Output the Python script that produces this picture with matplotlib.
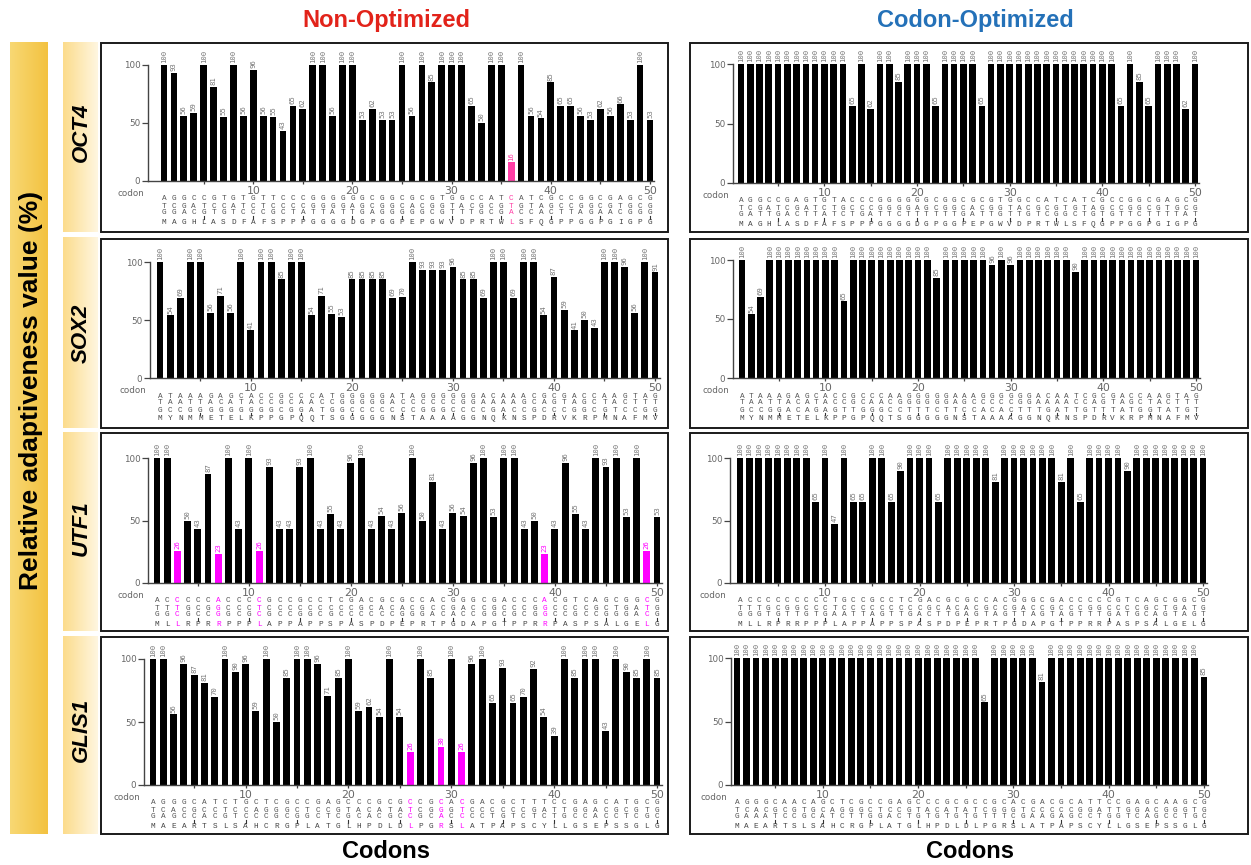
import numpy as np
import matplotlib
matplotlib.use('Agg')
import matplotlib.pyplot as plt
from matplotlib.patches import Rectangle
from matplotlib.transforms import blended_transform_factory

W, H = 1251, 865

# ---- data -------------------------------------------------------------
genes = ['OCT4', 'SOX2', 'UTF1', 'GLIS1']

oct4_aa = 'MAGHLASDFAFSPPPGGGGDGPGGPEPGWVDPRTWLSFQGPPGGPGIGPG'
sox2_aa = 'MYNMMETELKPPGPQQTSGGGGGNSTAAAAGGNQKNSPDRVKRPMNAFMV'
utf1_aa = 'MLLRPRRPPPLAPPAPPSPASPDPEPRTPGDAPGTPPRRPASPSALGELG'
glis1_aa = 'MAEARTSLSAHCRGPLATGLHPDLDLPGRSLATPAPSCYLLGSEPSSGLG'

oct4_native_codons = ('ATG GCG GGA CAC CTG GCT TCG GAT TTC GCC TTC TCG CCC CCT CCA GGT GGT GGA GGT GAT '
                      'GGG CCA GGG GGG CCG GAG CCG GGC TGG GTT GAT CCT CGG ACC TGG CTA AGC TTC CAA GGC '
                      'CCT CCT GGA GGG CCA GGA ATC GGG CCG GGG').split()
oct4_opt_codons = ('ATG GCA GGT CAT CTG GCA AGC GAT TTT GCA TTT AGC CCT CCG CCA GGT GGT GGC GGT GAT '
                   'GGT CCT GGT GGT CCG GAA CCT GGT TGG GTT GAT CCG CGT ACC TGG CTG AGC TTT CAG GGT '
                   'CCG CCT GGT GGC CCT GGT ATT GGT CCA GGT').split()
sox2_native_codons = ('ATG TAC AAC ATG ATG GAG ACG GAG CTG AAG CCG CCG GGC CCG CAG CAA ACT TCG GGG GGC '
                      'GGC GGC GGC AAC TCC ACC GCG GCG GCG GCC GGC GGC AAC CAG AAA AAC AGC CCG GAC CGC '
                      'GTC AAG CGG CCC ATG AAT GCC TTC ATG GTG').split()
sox2_opt_codons = ('ATG TAC AAC ATG ATG GAA ACC GAA CTG AAA CCG CCT GGT CCG CAG CAG ACC AGC GGT GGT '
                   'GGT GGC GGT AAT AGC ACC GCA GCC GCA GCC GGT GGT AAT CAG AAA AAT TCT CCG GAT CGT '
                   'GTT AAA CGT CCG ATG AAT GCA TTT ATG GTT').split()
utf1_native_codons = ('ATG CTG CTC CGG CCC CGC AGG CCG CCC CCG CTC GCG CCC CCC GCG CCG CCC TCG CCC GCC '
                      'AGC CCC GAC CCC GAG CCG CGG ACA CCC GGA GAC GCC CCG GGG ACC CCG CCC CGG AGG CCC '
                      'GCC TCG CCC AGC GCG CTG GGG GAA CTC GGG').split()
utf1_opt_codons = ('ATG CTG CTG CGT CCG CGT CGT CCG CCT CCG TTA GCA CCT CCT GCA CCG CCT TCT CCG GCA '
                   'AGC CCT GAT CCG GAA CCG CGT ACA CCG GGT GAT GCA CCG GGT ACA CCG CCT CGT CGT CCG '
                   'GCA TCT CCG AGC GCA CTG GGT GAA CTG GGT').split()
glis1_native_codons = ('ATG GCA GAG GCC CGC ACA TCC CTG TCT GCC CAC TGC CGG GGC CCG CTG GCC ACT GGC CTG '
                       'CAC CCA GAC CTG GAC CTC CCG GGC CGA AGC CTC GCC ACC CCT GCG CCT TCC TGT TAC CTT '
                       'CTG GGC AGC GAA CCC AGC TCT GGC CTG GGC').split()
glis1_opt_codons = ('ATG GCA GAA GCA CGT ACC AGC CTG AGC GCA CAT TGC CGT GGT CCG CTG GCA ACC GGT CTG '
                    'CAT CCG GAT CTG GAT CTG CCT GGT CGT AGC CTG GCA ACA CCG GCA CCG AGC TGC TAT CTG '
                    'CTG GGT AGC GAA CCG AGC AGC GGT CTG GGC').split()

oct4_native = [100, 93, 56, 59, 100, 81, 55, 100, 56, 96,
               56, 55, 43, 65, 62, 100, 100, 56, 100, 100,
               53, 62, 53, 53, 100, 56, 100, 85, 100, 100,
               100, 65, 50, 100, 100, 16, 100, 56, 54, 85,
               65, 65, 56, 53, 62, 56, 66, 53, 100, 53]
oct4_opt = [100, 100, 100, 100, 100, 100, 100, 100, 100, 100,
            100, 100, 65, 100, 62, 100, 100, 85, 100, 100,
            100, 65, 100, 100, 100, 100, 65, 100, 100, 100,
            100, 100, 100, 100, 100, 100, 100, 100, 100, 100,
            100, 65, 100, 85, 65, 100, 100, 100, 62, 100]
sox2_native = [100, 54, 69, 100, 100, 56, 71, 56, 100, 41,
               100, 100, 85, 100, 100, 54, 71, 55, 53, 85,
               85, 85, 85, 69, 70, 100, 93, 93, 93, 96,
               85, 85, 69, 100, 100, 69, 100, 100, 54, 87,
               59, 41, 50, 43, 100, 100, 96, 56, 100, 91]
sox2_opt = [100, 54, 69, 100, 100, 100, 100, 100, 100, 100,
            100, 65, 100, 100, 100, 100, 100, 100, 100, 100,
            100, 85, 100, 100, 100, 100, 100, 96, 100, 96,
            100, 100, 100, 100, 100, 100, 90, 100, 100, 100,
            100, 100, 100, 100, 100, 100, 100, 100, 100, 100]
utf1_native = [100, 100, 26, 50, 43, 87, 23, 100, 43, 100,
               26, 93, 43, 43, 93, 100, 43, 55, 43, 96,
               100, 43, 54, 43, 56, 100, 50, 81, 43, 56,
               54, 96, 100, 53, 100, 100, 43, 50, 23, 43,
               96, 55, 43, 100, 93, 100, 53, 100, 26, 53]
utf1_opt = [100, 100, 100, 100, 100, 100, 100, 100, 65, 100,
            47, 100, 65, 65, 100, 100, 65, 90, 100, 100,
            100, 65, 100, 100, 100, 100, 100, 81, 100, 100,
            100, 100, 100, 100, 81, 100, 65, 100, 100, 100,
            100, 90, 100, 100, 100, 100, 100, 100, 100, 100]
glis1_native = [100, 100, 56, 96, 87, 81, 70, 100, 90, 96,
                59, 100, 50, 85, 100, 100, 96, 71, 85, 100,
                59, 62, 54, 100, 54, 26, 100, 85, 30, 100,
                26, 96, 100, 65, 93, 65, 70, 92, 54, 39,
                100, 85, 100, 100, 43, 100, 90, 85, 100, 85]
glis1_opt = [100, 100, 100, 100, 100, 100, 100, 100, 100, 100,
             100, 100, 100, 100, 100, 100, 100, 100, 100, 100,
             100, 100, 100, 100, 100, 100, 65, 100, 100, 100,
             100, 100, 81, 100, 100, 100, 100, 100, 100, 100,
             100, 100, 100, 100, 100, 100, 100, 100, 100, 85]

# ---- layout (pixel positions in the 1251x865 canvas) ------------------
# box, spine x, centre of bar 1, centre of bar 50, y of 100, y of 0
layout = {
    ('OCT4', 0): ((101, 43, 668, 232), 148, 164, 650, 65, 181),
    ('SOX2', 0): ((101, 239, 668, 428), 150, 160, 655, 262, 378),
    ('UTF1', 0): ((101, 433, 668, 631), 148, 157, 657, 458, 583),
    ('GLIS1', 0): ((101, 637, 668, 834), 144, 153, 657, 659, 785),
    ('OCT4', 1): ((690, 43, 1248, 232), 733, 741, 1195, 64, 183),
    ('SOX2', 1): ((690, 239, 1248, 428), 733, 742, 1196, 260, 378),
    ('UTF1', 1): ((690, 433, 1248, 631), 730, 740, 1203, 458, 583),
    ('GLIS1', 1): ((690, 637, 1248, 834), 731, 737, 1204, 658, 785),
}
gene_label_y = {'OCT4': 132, 'SOX2': 333, 'UTF1': 528, 'GLIS1': 730}
gene_box_y = {'OCT4': (42, 232), 'SOX2': (237, 428), 'UTF1': (432, 631), 'GLIS1': (636, 834)}
rare_color = {'OCT4': '#ff3fa6', 'SOX2': '#ff00ff', 'UTF1': '#ff00ff', 'GLIS1': '#ff00ff'}

panels = {
    ('OCT4', 0): (oct4_native, oct4_native_codons, oct4_aa),
    ('OCT4', 1): (oct4_opt, oct4_opt_codons, oct4_aa),
    ('SOX2', 0): (sox2_native, sox2_native_codons, sox2_aa),
    ('SOX2', 1): (sox2_opt, sox2_opt_codons, sox2_aa),
    ('UTF1', 0): (utf1_native, utf1_native_codons, utf1_aa),
    ('UTF1', 1): (utf1_opt, utf1_opt_codons, utf1_aa),
    ('GLIS1', 0): (glis1_native, glis1_native_codons, glis1_aa),
    ('GLIS1', 1): (glis1_opt, glis1_opt_codons, glis1_aa),
}

MONO = 'Liberation Mono'


def fx(px):
    return px / W


def fy(py):
    return 1 - py / H


def gradient_box(fig, x0, y0, x1, y1, c_left, c_right):
    ax = fig.add_axes([fx(x0), fy(y1), (x1 - x0) / W, (y1 - y0) / H], zorder=0)
    a = np.array(matplotlib.colors.to_rgb(c_left))
    b = np.array(matplotlib.colors.to_rgb(c_right))
    t = np.linspace(0, 1, 64)
    img = (a[None, :] * (1 - t[:, None]) + b[None, :] * t[:, None])[None, :, :]
    ax.imshow(img, aspect='auto', extent=(0, 1, 0, 1))
    ax.set_xlim(0, 1)
    ax.set_ylim(0, 1)
    ax.axis('off')
    return ax


def draw_panel(fig, gene, side):
    box, spine, bar1, bar50, y100, y0 = layout[(gene, side)]
    vals, codons, aa = panels[(gene, side)]

    fig.add_artist(Rectangle((fx(box[0]), fy(box[3])), (box[2] - box[0]) / W, (box[3] - box[1]) / H,
                             transform=fig.transFigure, fill=False, ec='#1a1a1a', lw=1.4, zorder=5))

    step = (bar50 - bar1) / 49
    xmin = 1 - (bar1 - spine) / step
    xmax = 50.45
    right_px = bar1 + (xmax - 1) * step
    ax = fig.add_axes([fx(spine), fy(y0), (right_px - spine) / W, (y0 - y100) / H], zorder=3)
    ax.patch.set_alpha(0)
    ax.set_xlim(xmin, xmax)
    ax.set_ylim(0, 100)

    x = np.arange(1, 51)
    cols = [rare_color[gene] if v <= 30 else 'black' for v in vals]
    ax.bar(x, vals, width=0.68 if side == 0 else 0.72, color=cols, zorder=2)
    for xi, v, c in zip(x, vals, cols):
        ax.text(xi, v + 1.5, str(v), rotation=90, ha='center', va='bottom', fontsize=5.2,
                family='DejaVu Sans Mono', color=(c if c != 'black' else '#777777'), clip_on=False)

    for s in ('top', 'right'):
        ax.spines[s].set_visible(False)
    for s in ('left', 'bottom'):
        ax.spines[s].set_color('#444444')
        ax.spines[s].set_linewidth(1.0)
    ax.set_yticks([0, 50, 100])
    ax.tick_params(axis='y', length=4, width=0.9, color='#444444', labelcolor='#666666',
                   labelsize=6.3, pad=1.5)
    ax.set_xticks(range(5, 51, 5))
    ax.set_xticklabels([str(i) if i % 10 == 0 else '' for i in range(5, 51, 5)])
    ax.tick_params(axis='x', length=2.5, width=0.9, color='#444444', labelcolor='#666666',
                   labelsize=7.8, pad=1.0)

    trans = blended_transform_factory(ax.transData, fig.transFigure)
    fig.text(fx(spine - 4), fy(y0 + 12.5), 'codon', ha='right', va='center', fontsize=6.3,
             color='#666666')
    row_off = [18, 25, 32]
    for i, (cod, a) in enumerate(zip(codons, aa), start=1):
        c = rare_color[gene] if vals[i - 1] <= 30 else '#555555'
        for k in range(3):
            ax.text(i, fy(y0 + row_off[k]), cod[k], transform=trans, ha='center', va='center',
                    fontsize=5.6, family=MONO, color=c)
        ax.text(i, fy(y0 + 41), a, transform=trans, ha='center', va='center',
                fontsize=5.6, family=MONO, color=(c if c != '#555555' else '#444444'))
        if i % 5 == 0:
            ax.plot([i, i], [fy(y0 + 35), fy(y0 + 37.5)], transform=trans, color='#333333',
                    lw=0.8, clip_on=False)


fig = plt.figure(figsize=(W / 100, H / 100), dpi=100)
fig.patch.set_facecolor('white')

# side label box
gradient_box(fig, 10, 42, 48, 834, '#f8d874', '#f3c240')
fig.text(fx(31), fy(390), 'Relative adaptiveness value (%)', rotation=90, ha='center', va='center',
         fontsize=19, fontweight='bold', family='Liberation Sans', zorder=6)

for g in genes:
    y_a, y_b = gene_box_y[g]
    gradient_box(fig, 63, y_a, 98, y_b, '#fcdc8c', '#fff6e0')
    fig.text(fx(81), fy(gene_label_y[g]), g, rotation=90, ha='center', va='center', fontsize=16,
             fontweight='bold', style='italic', family='Liberation Sans', zorder=6)
    draw_panel(fig, g, 0)
    draw_panel(fig, g, 1)

fig.text(fx(386), fy(20), 'Non-Optimized', ha='center', va='center', fontsize=17, fontweight='bold',
         color='#e2231a', family='Liberation Sans')
fig.text(fx(975), fy(20), 'Codon-Optimized', ha='center', va='center', fontsize=17, fontweight='bold',
         color='#2471b8', family='Liberation Sans')
fig.text(fx(386), fy(851), 'Codons', ha='center', va='center', fontsize=17, fontweight='bold',
         family='Liberation Sans')
fig.text(fx(970), fy(851), 'Codons', ha='center', va='center', fontsize=17, fontweight='bold',
         family='Liberation Sans')

fig.savefig('out.png', dpi=100)
